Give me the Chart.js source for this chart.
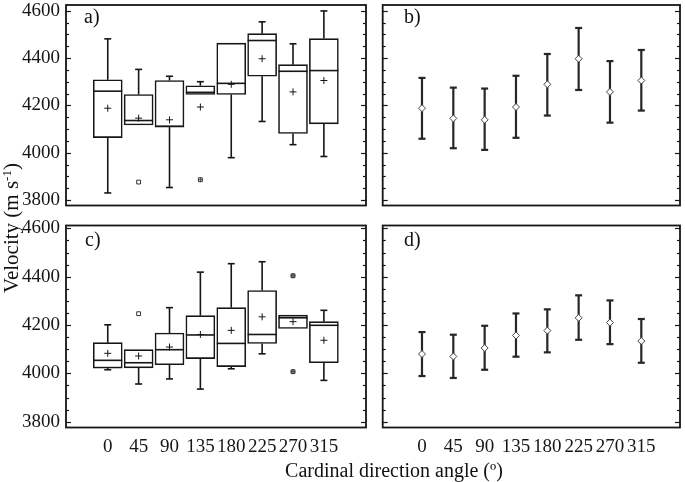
<!DOCTYPE html>
<html><head><meta charset="utf-8">
<script src="https://cdn.jsdelivr.net/npm/chart.js@4"></script>
<style>
html,body{margin:0;padding:0;background:#fff;width:685px;height:482px;overflow:hidden;position:relative}
canvas{position:absolute}
.t{position:absolute;font-family:'Liberation Serif',serif;color:#111;font-size:20px;line-height:20px;white-space:nowrap}
sup{font-size:13px;line-height:0;vertical-align:7px}
</style></head><body>
<canvas id="ca" width="372" height="215" style="left:0;top:0"></canvas>
<canvas id="cb" width="313" height="215" style="left:372px;top:0"></canvas>
<canvas id="cc" width="372" height="250" style="left:0;top:215px"></canvas>
<canvas id="cd" width="313" height="250" style="left:372px;top:215px"></canvas>
<div class="t" style="left:84px;top:6px">a)</div>
<div class="t" style="left:404px;top:6px">b)</div>
<div class="t" style="left:85px;top:229px">c)</div>
<div class="t" style="left:404px;top:229px">d)</div>
<div class="t" style="left:194px;width:400px;text-align:center;top:460px">Cardinal direction angle (º)</div>
<div class="t" style="left:-139px;width:300px;text-align:center;top:218px;font-size:21px;transform:rotate(-90deg)">Velocity (m s<sup>-1</sup>)</div>
<script>
const categories = ['0','45','90','135','180','225','270','315'];
const yTicks = [3800, 4000, 4200, 4400, 4600];

// a) box plot
const aMin  = [3830, 4117, 3853, 4246, 3979, 4132, 4034, 3984];
const aQ1   = [4064, 4117, 4108, 4246, 4246, 4323, 4081, 4122];
const aMed  = [4260, 4136, 4112, 4255, 4293, 4474, 4344, 4347];
const aQ3   = [4308, 4246, 4305, 4283, 4463, 4503, 4372, 4482];
const aMax  = [4481, 4352, 4323, 4300, 4463, 4553, 4460, 4599];
const aMean = [4188, 4146, 4139, 4193, 4289, 4397, 4257, 4305];
const aOutlierOpen  = [{x: 1, y: 3876}];
const aOutlierCross = [{x: 3, y: 3886}];

// b) mean with error bars
const bMean = [4188, 4145, 4139, 4193, 4289, 4397, 4257, 4305];
const bLow  = [4059, 4019, 4012, 4063, 4157, 4265, 4127, 4178];
const bHigh = [4316, 4275, 4271, 4325, 4417, 4527, 4387, 4434];

// c) box plot
const cMin  = [4015, 3956, 3977, 3935, 4019, 4081, 4186, 3971];
const cQ1   = [4022, 4023, 4036, 4061, 4028, 4124, 4186, 4044];
const cMed  = [4054, 4044, 4098, 4159, 4124, 4161, 4230, 4199];
const cQ3   = [4127, 4098, 4167, 4239, 4272, 4343, 4241, 4214];
const cMax  = [4201, 4098, 4272, 4419, 4454, 4462, 4241, 4261];
const cMean = [4083, 4072, 4109, 4161, 4178, 4234, 4214, 4137];
const cOutlierOpen  = [{x: 1, y: 4247}];
const cOutlierCross = [{x: 6, y: 4404}, {x: 6, y: 4007}];

// d) mean with error bars
const dMean = [4080, 4070, 4105, 4157, 4177, 4230, 4210, 4134];
const dLow  = [3989, 3981, 4015, 4069, 4087, 4139, 4121, 4044];
const dHigh = [4171, 4160, 4197, 4248, 4265, 4323, 4302, 4225];

const FONT = "'Liberation Serif', 'Times New Roman', serif";
const INK = '#161616';
Chart.defaults.font.family = FONT;
Chart.defaults.animation = false;
Chart.defaults.events = [];
Chart.defaults.plugins.legend.display = false;
Chart.defaults.plugins.tooltip.enabled = false;

const pts = arr => arr.map((v, i) => ({x: i, y: v}));

function line(ctx, x1, y1, x2, y2) { ctx.beginPath(); ctx.moveTo(x1, y1); ctx.lineTo(x2, y2); ctx.stroke(); }

const framePlugin = {
  id: 'frame',
  afterDraw(chart) {
    const {ctx, chartArea: a} = chart;
    const y = chart.scales.y;
    ctx.save();
    ctx.strokeStyle = INK;
    ctx.lineWidth = 1.2;
    const step = (yTicks[1] - yTicks[0]) / 4;
    for (let v = yTicks[0]; v <= yTicks[yTicks.length - 1]; v += step) {
      const py = Math.round(y.getPixelForValue(v)) + 0.5;
      const L = yTicks.includes(v) ? 5 : 3;
      line(ctx, a.left, py, a.left + L, py);
      line(ctx, a.right, py, a.right - L, py);
    }
    ctx.lineWidth = 1.8;
    ctx.strokeRect(a.left, a.top, a.right - a.left, a.bottom - a.top);
    ctx.restore();
  }
};

function boxPlugin(mn, q1, med, q3, mx) {
  return {
    id: 'boxWhisk',
    beforeDatasetsDraw(chart) {
      const {ctx} = chart; const y = chart.scales.y; const x = chart.scales.x;
      ctx.save(); ctx.strokeStyle = INK; ctx.lineWidth = 1.6;
      for (let i = 0; i < categories.length; i++) {
        const px = x.getPixelForValue(i);
        if (mx[i] > q3[i]) {
          line(ctx, px, y.getPixelForValue(q3[i]), px, y.getPixelForValue(mx[i]));
          line(ctx, px - 3.5, y.getPixelForValue(mx[i]), px + 3.5, y.getPixelForValue(mx[i]));
        }
        if (mn[i] < q1[i]) {
          line(ctx, px, y.getPixelForValue(q1[i]), px, y.getPixelForValue(mn[i]));
          line(ctx, px - 3.5, y.getPixelForValue(mn[i]), px + 3.5, y.getPixelForValue(mn[i]));
        }
      }
      ctx.restore();
    },
    afterDatasetsDraw(chart) {
      const {ctx} = chart; const y = chart.scales.y;
      const bars = chart.getDatasetMeta(chart.data.datasets.length - 1).data;
      ctx.save(); ctx.strokeStyle = INK; ctx.lineWidth = 1.6;
      bars.forEach((b, i) => {
        const py = y.getPixelForValue(med[i]);
        line(ctx, b.x - b.width / 2, py, b.x + b.width / 2, py);
      });
      ctx.restore();
    }
  };
}

function errPlugin(lo, hi) {
  return {
    id: 'errBars',
    beforeDatasetsDraw(chart) {
      const {ctx} = chart; const y = chart.scales.y; const x = chart.scales.x;
      ctx.save(); ctx.strokeStyle = '#262626'; ctx.lineWidth = 2.2;
      for (let i = 0; i < categories.length; i++) {
        const px = x.getPixelForValue(i);
        const pl = y.getPixelForValue(lo[i]), ph = y.getPixelForValue(hi[i]);
        line(ctx, px, pl, px, ph);
        line(ctx, px - 3.5, pl, px + 3.5, pl);
        line(ctx, px - 3.5, ph, px + 3.5, ph);
      }
      ctx.restore();
    }
  };
}

function yScale(min, max, showLabels) {
  return {
    type: 'linear', min, max, display: showLabels,
    afterBuildTicks: s => { s.ticks = yTicks.map(v => ({value: v})); },
    afterFit: s => { s.width = showLabels ? 66 : 0; s.paddingTop = 0; s.paddingBottom = 0; },
    grid: {display: false, drawTicks: false},
    border: {display: false},
    ticks: {padding: 6, color: INK, font: {size: 19, family: FONT}, callback: v => String(v)}
  };
}
function xScale(min, max, showLabels) {
  return {
    type: 'linear', min, max, display: showLabels,
    afterBuildTicks: s => { s.ticks = categories.map((c, i) => ({value: i})); },
    afterFit: s => { s.height = showLabels ? 37.5 : 0; s.paddingLeft = 0; s.paddingRight = 0; },
    grid: {display: false, drawTicks: false},
    border: {display: false},
    ticks: {padding: 8, autoSkip: false, maxRotation: 0, minRotation: 0, color: INK,
            font: {size: 19, family: FONT}, callback: v => categories[Math.round(v)]}
  };
}

function boxDatasets(q1, q3, mean, open, cross, crossFill) {
  return [
    {type: 'scatter', data: pts(mean), pointStyle: 'cross', pointRadius: 3.5, borderColor: INK, borderWidth: 1},
    {type: 'scatter', data: cross, pointStyle: 'cross', pointRadius: 2.5, borderColor: '#333', borderWidth: 0.8},
    {type: 'scatter', data: cross, pointStyle: 'rect', pointRadius: 2.7, backgroundColor: crossFill, borderColor: '#333', borderWidth: 1},
    {type: 'scatter', data: open, pointStyle: 'rect', pointRadius: 2.7, backgroundColor: '#fff', borderColor: '#333', borderWidth: 1},
    {type: 'bar', data: q1.map((v, i) => ({x: i, y: [v, q3[i]]})), backgroundColor: '#fff',
     borderColor: INK, borderWidth: 1.6, borderSkipped: false, barThickness: 29}
  ];
}
function errDatasets(mean) {
  return [{type: 'scatter', data: pts(mean), pointStyle: 'rectRot', pointRadius: 3.5,
           backgroundColor: '#fff', borderColor: '#444', borderWidth: 1}];
}

new Chart(document.getElementById('ca'), {
  type: 'bar',
  data: {datasets: boxDatasets(aQ1, aQ3, aMean, aOutlierOpen, aOutlierCross, '#fff')},
  options: {responsive: false, layout: {padding: {left: 0, right: 6, top: 1.5, bottom: 9.5}},
    scales: {x: xScale(-0.745, 7.757, false), y: yScale(3777, 4624, true)}},
  plugins: [boxPlugin(aMin, aQ1, aMed, aQ3, aMax), framePlugin]
});
new Chart(document.getElementById('cb'), {
  type: 'scatter',
  data: {datasets: errDatasets(bMean)},
  options: {responsive: false, layout: {padding: {left: 10.7, right: 2.7, top: 1.5, bottom: 9.5}},
    scales: {x: xScale(-1.254, 8.235, false), y: yScale(3777, 4624, false)}},
  plugins: [errPlugin(bLow, bHigh), framePlugin]
});
new Chart(document.getElementById('cc'), {
  type: 'bar',
  data: {datasets: boxDatasets(cQ1, cQ3, cMean, cOutlierOpen, cOutlierCross, '#aaa')},
  options: {responsive: false, layout: {padding: {left: 0, right: 6, top: 10.5, bottom: 0}},
    scales: {x: xScale(-0.745, 7.757, true), y: yScale(3776, 4612, true)}},
  plugins: [boxPlugin(cMin, cQ1, cMed, cQ3, cMax), framePlugin]
});
new Chart(document.getElementById('cd'), {
  type: 'scatter',
  data: {datasets: errDatasets(dMean)},
  options: {responsive: false, layout: {padding: {left: 10.7, right: 2.7, top: 10.5, bottom: 0}},
    scales: {x: xScale(-1.254, 8.235, true), y: yScale(3776, 4612, false)}},
  plugins: [errPlugin(dLow, dHigh), framePlugin]
});
</script>
</body></html>
